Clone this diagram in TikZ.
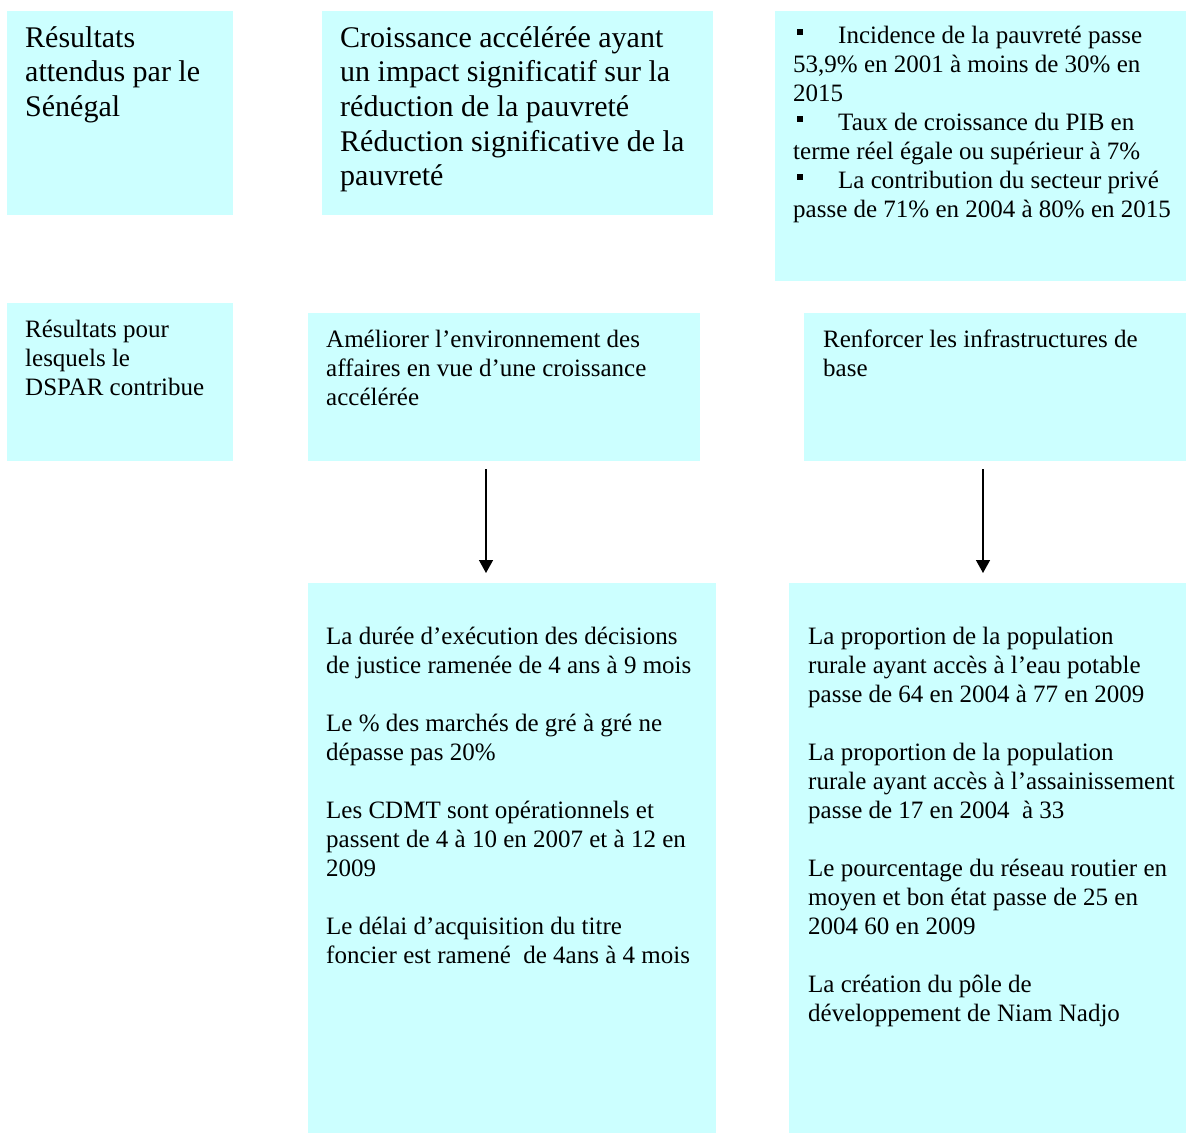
\documentclass[tikz,border=0pt]{standalone}
\usepackage{fontspec}
\setmainfont{Liberation Serif}
\usetikzlibrary{arrows.meta}
\definecolor{boxcyan}{RGB}{204,255,255}
\newcommand\sqbullet{\hspace*{4pt}\rule[8pt]{6pt}{6pt}\hspace*{35pt}}
\tikzset{
  panel/.style={fill=boxcyan, draw=none, inner sep=0pt, outer sep=0pt, anchor=north west},
  bigtxt/.style={font=\fontsize{30}{34.7}\selectfont, align=left, inner sep=0pt, anchor=north west, text=black},
  smalltxt/.style={font=\fontsize{25}{29}\selectfont, align=left, inner sep=0pt, anchor=north west, text=black},
  arr/.style={-{Triangle[width=14pt,length=13pt]}, line width=1.4pt, draw=black}
}
\begin{document}
\begin{tikzpicture}[x=1pt,y=-1pt]
\useasboundingbox (0,0) rectangle (1186,1133);
% boxes
\node[panel, minimum width=226pt, minimum height=204pt] (A) at (7,11) {};
\node[panel, minimum width=391pt, minimum height=204pt] (B) at (322,11) {};
\node[panel, minimum width=411pt, minimum height=270pt] (C) at (775,11) {};
\node[panel, minimum width=226pt, minimum height=158pt] (D) at (7,303) {};
\node[panel, minimum width=392pt, minimum height=148pt] (E) at (308,313) {};
\node[panel, minimum width=382pt, minimum height=148pt] (F) at (804,313) {};
\node[panel, minimum width=408pt, minimum height=550pt] (G) at (308,583) {};
\node[panel, minimum width=397pt, minimum height=550pt] (H) at (789,583) {};
% texts
\node[bigtxt] (tA) at (25,22.7) {\strut Résultats\\attendus par le\\Sénégal};
\node[bigtxt] (tB) at (340,22.7) {\strut Croissance accélérée ayant\\un impact significatif sur la\\réduction de la pauvreté\\Réduction significative de la\\pauvreté};
\node[smalltxt] (tC) at (793,22.7) {\strut\sqbullet Incidence de la pauvreté passe\\53,9\% en 2001 à moins de 30\% en\\2015\\\sqbullet Taux de croissance du PIB en\\terme réel égale ou supérieur à 7\%\\\sqbullet La contribution du secteur privé\\passe de 71\% en 2004 à 80\% en 2015};
\node[smalltxt] (tD) at (25,316.7) {\strut Résultats pour\\lesquels le\\DSPAR contribue};
\node[smalltxt] (tE) at (326,326.7) {\strut Améliorer l’environnement des\\affaires en vue d’une croissance\\accélérée};
\node[smalltxt] (tF) at (823,326.7) {\strut Renforcer les infrastructures de\\base};
\node[smalltxt] (tG) at (326,623.7) {\strut La durée d’exécution des décisions\\de justice ramenée de 4 ans à 9 mois\\[29pt]Le \% des marchés de gré à gré ne\\dépasse pas 20\%\\[29pt]Les CDMT sont opérationnels et\\passent de 4 à 10 en 2007 et à 12 en\\2009\\[29pt]Le délai d’acquisition du titre\\foncier est ramené\ \ de 4ans à 4 mois};
\node[smalltxt] (tH) at (808,623.7) {\strut La proportion de la population\\rurale ayant accès à l’eau potable\\passe de 64 en 2004 à 77 en 2009\\[29pt]La proportion de la population\\rurale ayant accès à l’assainissement\\passe de 17 en 2004\ \ à 33\\[29pt]Le pourcentage du réseau routier en\\moyen et bon état passe de 25 en\\2004 60 en 2009\\[29pt]La création du pôle de\\développement de Niam Nadjo};
% arrows
\draw[arr] ([xshift=-18pt,yshift=-8pt]E.south) -- ([xshift=-26pt,yshift=10pt]G.north);
\draw[arr] ([xshift=-12pt,yshift=-8pt]F.south) -- ([xshift=-4.5pt,yshift=10pt]H.north);
\end{tikzpicture}
\end{document}
